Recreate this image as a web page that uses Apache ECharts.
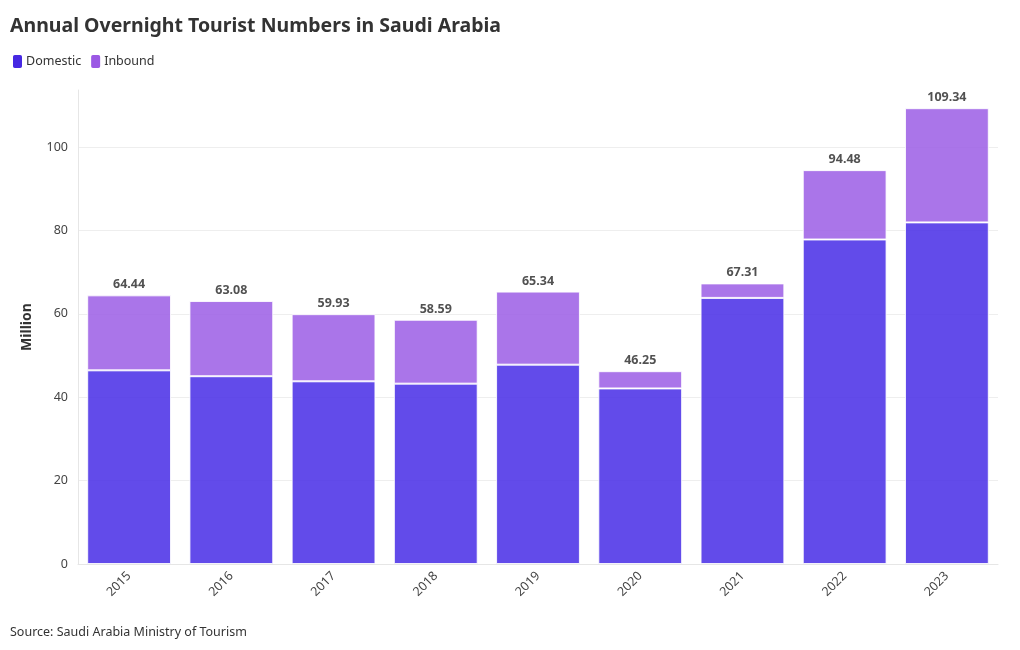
<!DOCTYPE html>
<html>
<head>
<meta charset="utf-8">
<script src="https://cdn.jsdelivr.net/npm/echarts@6/dist/echarts.min.js"></script>
<style>
html,body{margin:0;padding:0;background:#fff;}
#chart{width:1020px;height:650px;}
</style>
</head>
<body>
<div id="chart"></div>
<script>
const years = ['2015','2016','2017','2018','2019','2020','2021','2022','2023'];
const domestic = [46.45, 45.04, 43.82, 43.26, 47.81, 42.11, 63.83, 77.84, 81.94];
const inbound = [17.99, 18.04, 16.11, 15.33, 17.53, 4.14, 3.48, 16.64, 27.40];
const totals = [64.44, 63.08, 59.93, 58.59, 65.34, 46.25, 67.31, 94.48, 109.34];
const yTicks = [0, 20, 40, 60, 80, 100];

const FONT = '"Noto Sans", Lato, sans-serif';
const chart = echarts.init(document.getElementById('chart'), null, {renderer: 'canvas'});
chart.setOption({
  animation: false,
  textStyle: {fontFamily: FONT},
  title: [{
    text: 'Annual Overnight Tourist Numbers in Saudi Arabia',
    left: 5, top: 11,
    textStyle: {fontFamily: FONT, fontSize: 19.5, fontWeight: 'bold', color: '#333'}
  }, {
    text: 'Source: Saudi Arabia Ministry of Tourism',
    left: 5, top: 621,
    textStyle: {fontFamily: FONT, fontSize: 12.5, fontWeight: 'normal', color: '#333'}
  }],
  legend: {
    left: 6, top: 48,
    itemWidth: 11, itemHeight: 15, itemGap: 8,
    icon: 'roundRect',
    textStyle: {fontFamily: FONT, fontSize: 12.5, color: '#333', padding: [0, 0, 0, -2]},
    data: [
      {name: 'Domestic', itemStyle: {color: '#4628e2', opacity: 1}},
      {name: 'Inbound', itemStyle: {color: '#9b58e4', opacity: 1}}
    ]
  },
  grid: {left: 78, right: 22, top: 90, bottom: 86, containLabel: false},
  xAxis: {
    type: 'category',
    data: years,
    axisLine: {show: true, lineStyle: {color: '#e6e6e6'}},
    axisTick: {show: false},
    axisLabel: {rotate: 45, fontFamily: FONT, fontSize: 12.5, color: '#444', margin: 10}
  },
  yAxis: {
    type: 'value',
    min: 0, max: 113.7, interval: 20,
    name: 'Million',
    nameLocation: 'middle',
    nameGap: 44,
    nameTextStyle: {fontFamily: FONT, fontSize: 14, fontWeight: 'bold', color: '#333'},
    axisLine: {show: true, lineStyle: {color: '#e6e6e6'}},
    axisTick: {show: false},
    axisLabel: {
      fontFamily: FONT, fontSize: 12.5, color: '#444', margin: 10, showMaxLabel: false,
      formatter: v => yTicks.includes(v) ? String(v) : ''
    },
    splitLine: {show: true, showMinLine: false, showMaxLine: false, lineStyle: {color: '#eeeeee'}}
  },
  series: [{
    name: 'Domestic',
    type: 'bar',
    stack: 'total',
    data: domestic,
    barCategoryGap: '18%',
    itemStyle: {color: '#462ce6', opacity: 0.85, borderColor: '#fff', borderWidth: 1}
  }, {
    name: 'Inbound',
    type: 'bar',
    stack: 'total',
    data: inbound,
    barCategoryGap: '18%',
    itemStyle: {color: '#9b5de5', opacity: 0.85, borderColor: '#fff', borderWidth: 1},
    label: {
      show: true, position: 'top', distance: 4,
      fontFamily: FONT, fontSize: 12.5, fontWeight: 'bold', color: '#333',
      formatter: p => totals[p.dataIndex].toFixed(2)
    }
  }]
});
</script>
</body>
</html>
